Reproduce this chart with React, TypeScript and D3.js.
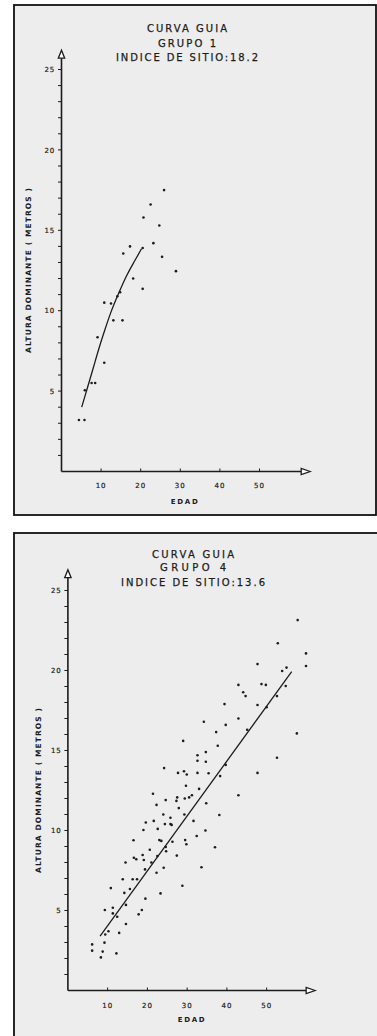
import React from 'react';
import * as d3 from 'd3';

// Grupo 1 observations (edad, altura dominante)
const topAge = [4.4, 5.8, 5.9, 7.6, 8.5, 9.1, 10.8, 10.8, 12.5, 13.1, 14.1, 14.8, 15.4, 15.6, 17.3, 18.1, 20.5, 20.7, 20.5, 22.5, 23.2, 24.7, 25.4, 25.9, 28.9];
const topHeight = [3.2, 3.2, 5.05, 5.5, 5.5, 8.35, 6.76, 10.5, 10.45, 9.4, 10.9, 11.15, 9.4, 13.56, 14.0, 12.0, 11.36, 15.8, 13.9, 16.6, 14.2, 15.3, 13.35, 17.5, 12.46];
const topCurveAge = [5.1, 6, 7.2, 8.5, 9.7, 11, 12.4, 14.3, 16.5, 18.6, 20.2];
const topCurveHeight = [4.0, 4.75, 5.75, 6.85, 7.85, 8.85, 9.85, 11.0, 12.2, 13.15, 13.85];

// Grupo 4 observations
const bottomAge = [
  57.8, 52.8, 59.9, 59.9, 47.7, 53.9, 55.0, 42.9, 48.7, 49.8, 54.8, 44.1, 44.7, 52.6, 47.7, 50.0,
  39.4, 42.9, 34.2, 39.7, 45.1, 37.3, 57.6, 37.7, 29.0, 34.7, 32.6, 32.6, 34.7, 52.6, 39.7, 24.2,
  35.4, 32.6, 27.7, 29.2, 29.9, 47.7, 38.3, 29.7, 33.0, 21.4, 31.2, 30.5, 42.9, 27.5, 29.4, 27.3,
  24.6, 22.3, 34.8, 27.9, 24.0, 29.3, 38.1, 25.8, 21.6, 31.6, 19.6, 24.4, 25.8, 26.1, 19.0, 22.6,
  34.6, 32.4, 23.0, 23.5, 29.5, 26.3, 29.8, 16.5, 20.6, 24.6, 37.0, 24.7, 18.8, 22.5, 27.4, 16.6,
  17.2, 19.1, 21.0, 14.5, 24.1, 33.6, 19.4, 22.3, 13.8, 16.3, 17.4, 28.8, 15.6, 10.8, 14.2, 23.3,
  19.5, 14.6, 9.3, 11.3, 18.6, 11.3, 17.8, 12.4, 14.6, 12.9, 10.2, 9.4, 6.1, 6.1, 8.3, 8.75, 9.2, 12.2,
];
const bottomHeight = [
  23.15, 21.7, 21.07, 20.28, 20.4, 19.97, 20.18, 19.1, 19.15, 19.1, 19.03, 18.64, 18.4, 18.4, 17.84, 17.7,
  17.9, 17.0, 16.8, 16.6, 16.3, 16.15, 16.07, 15.3, 15.6, 14.9, 14.7, 14.36, 14.3, 14.55, 14.1, 13.9,
  13.58, 13.6, 13.6, 13.7, 13.5, 13.6, 13.4, 12.8, 12.6, 12.3, 12.2, 12.07, 12.2, 12.07, 12.0, 11.85,
  11.9, 11.6, 11.7, 11.4, 11.0, 11.0, 10.97, 10.8, 10.6, 10.6, 10.5, 10.4, 10.4, 10.35, 10.03, 10.1,
  10.0, 9.66, 9.4, 9.35, 9.4, 9.3, 9.14, 9.39, 8.8, 8.97, 8.95, 8.7, 8.47, 8.4, 8.43, 8.3,
  8.2, 8.16, 8.0, 8.0, 7.67, 7.7, 7.57, 7.36, 6.95, 6.95, 6.95, 6.55, 6.34, 6.4, 6.1, 6.07,
  5.74, 5.35, 5.03, 5.17, 5.03, 4.82, 4.76, 4.61, 4.16, 3.6, 3.7, 3.5, 2.88, 2.49, 2.07, 2.43, 2.99, 2.32,
];
const bottomCurveAge = [8.1, 56.3];
const bottomCurveHeight = [3.4, 19.93];

const xTicks = [10, 20, 30, 40, 50];
const yTicks = [5, 10, 15, 20, 25];
const yMinor = [1, 2, 3, 4, 5, 6, 7, 8, 9, 10, 11, 12, 13, 14, 15, 16, 17, 18, 19, 20, 21, 22, 23, 24, 25];

const topTitles = ['CURVA GUIA', 'GRUPO  1', 'INDICE DE SITIO:18.2'];
const bottomTitles = ['CURVA GUIA', 'GRUPO  4', 'INDICE DE SITIO:13.6'];

const INK = '#1c1c1c';
const FONT = '"DejaVu Sans", sans-serif';

interface PanelCfg {
  frame: [number, number, number, number];
  ox: number;
  oy: number;
  xu: number;
  yu: number;
  xMax: number;
  yMax: number;
  titleX: number;
  titleY: number[];
  titleW: number[];
  yTitleX: number;
  edadDy: number;
  tickDy: number;
}

const topCfg: PanelCfg = {
  frame: [14, 5, 362, 510],
  ox: 61.5, oy: 471.5, xu: 3.96, yu: 16.08, xMax: 62.8, yMax: 26.2,
  titleX: 187, titleY: [32.3, 46.7, 61], titleW: [80, 58, 142],
  yTitleX: 31, edadDy: 32.5, tickDy: 16.5,
};

const bottomCfg: PanelCfg = {
  frame: [14, 533, 372, 520],
  ox: 67.9, oy: 990.5, xu: 3.975, yu: 16, xMax: 62.2, yMax: 26.3,
  titleX: 193, titleY: [557.5, 571, 586], titleW: [82, 66, 144],
  yTitleX: 41, edadDy: 31, tickDy: 17,
};

function Panel({ cfg, titles, age, height, curveAge, curveHeight, smooth }: {
  cfg: PanelCfg; titles: string[]; age: number[]; height: number[];
  curveAge: number[]; curveHeight: number[]; smooth: boolean;
}) {
  const x = d3.scaleLinear().domain([0, 60]).range([cfg.ox, cfg.ox + 60 * cfg.xu]);
  const y = d3.scaleLinear().domain([0, 25]).range([cfg.oy, cfg.oy - 25 * cfg.yu]);
  const xEnd = x(cfg.xMax);
  const yEnd = y(cfg.yMax);
  const line = d3.line<number>()
    .x(i => x(curveAge[i]))
    .y(i => y(curveHeight[i]))
    .curve(smooth ? d3.curveMonotoneX : d3.curveLinear);
  const [fx, fy, fw, fh] = cfg.frame;

  return (
    <g>
      <rect x={fx} y={fy} width={fw} height={fh} fill="#ededed" stroke="#111" strokeWidth={1.8} />

      {titles.map((t, i) => (
        <text key={i} x={cfg.titleX} y={cfg.titleY[i]} textAnchor="middle" fontFamily={FONT}
          fontSize={10} fill={INK} stroke={INK} strokeWidth={0.25}
          textLength={cfg.titleW[i]} lengthAdjust="spacing">{t}</text>
      ))}

      {/* axes */}
      <line x1={cfg.ox} x2={cfg.ox} y1={cfg.oy} y2={yEnd + 7} stroke={INK} strokeWidth={1.6} />
      <line x1={cfg.ox} x2={xEnd - 9} y1={cfg.oy} y2={cfg.oy} stroke={INK} strokeWidth={1.6} />
      <path d={`M${cfg.ox},${yEnd} L${cfg.ox - 3.2},${yEnd + 8} L${cfg.ox + 3.2},${yEnd + 8} Z`}
        fill="#fff" stroke={INK} strokeWidth={1.3} />
      <path d={`M${xEnd},${cfg.oy} L${xEnd - 9},${cfg.oy - 3.2} L${xEnd - 9},${cfg.oy + 3.2} Z`}
        fill="#fff" stroke={INK} strokeWidth={1.3} />

      {yMinor.map(v => (
        <line key={v} x1={cfg.ox - 3.5} x2={cfg.ox} y1={y(v)} y2={y(v)} stroke={INK} strokeWidth={1} />
      ))}
      {yTicks.map(v => (
        <text key={v} x={cfg.ox - 6.5} y={y(v) + 2.6} textAnchor="end" fontFamily={FONT}
          fontSize={7} fill={INK} stroke={INK} strokeWidth={0.2} letterSpacing={0.8}>{v}</text>
      ))}
      {xTicks.map(v => (
        <g key={v}>
          <line x1={x(v)} x2={x(v)} y1={cfg.oy} y2={cfg.oy - 3} stroke={INK} strokeWidth={1} />
          <text x={x(v)} y={cfg.oy + cfg.tickDy} textAnchor="middle" fontFamily={FONT}
            fontSize={7} fill={INK} stroke={INK} strokeWidth={0.2} letterSpacing={1}>{v}</text>
        </g>
      ))}

      <text x={x(31)} y={cfg.oy + cfg.edadDy} textAnchor="middle" fontFamily={FONT} fontWeight="bold"
        fontSize={7} fill={INK} textLength={27} lengthAdjust="spacing">EDAD</text>
      <text transform={`translate(${cfg.yTitleX},${y(12.5)}) rotate(-90)`} textAnchor="middle"
        fontFamily={FONT} fontWeight="bold" fontSize={7.5} fill={INK} textLength={165}
        lengthAdjust="spacing">ALTURA DOMINANTE ( METROS )</text>

      <path d={line(curveAge.map((_, i) => i)) || ''} fill="none" stroke={INK} strokeWidth={1.3} />

      {age.map((a, i) => (
        <circle key={i} cx={x(a)} cy={y(height[i])} r={1.3} fill={INK} />
      ))}
    </g>
  );
}

export default function App() {
  return (
    <svg width={377} height={1036} style={{ position: 'absolute', left: 0, top: 0, background: '#fff' }}>
      <Panel cfg={topCfg} titles={topTitles} age={topAge} height={topHeight}
        curveAge={topCurveAge} curveHeight={topCurveHeight} smooth />
      <Panel cfg={bottomCfg} titles={bottomTitles} age={bottomAge} height={bottomHeight}
        curveAge={bottomCurveAge} curveHeight={bottomCurveHeight} smooth={false} />
    </svg>
  );
}
